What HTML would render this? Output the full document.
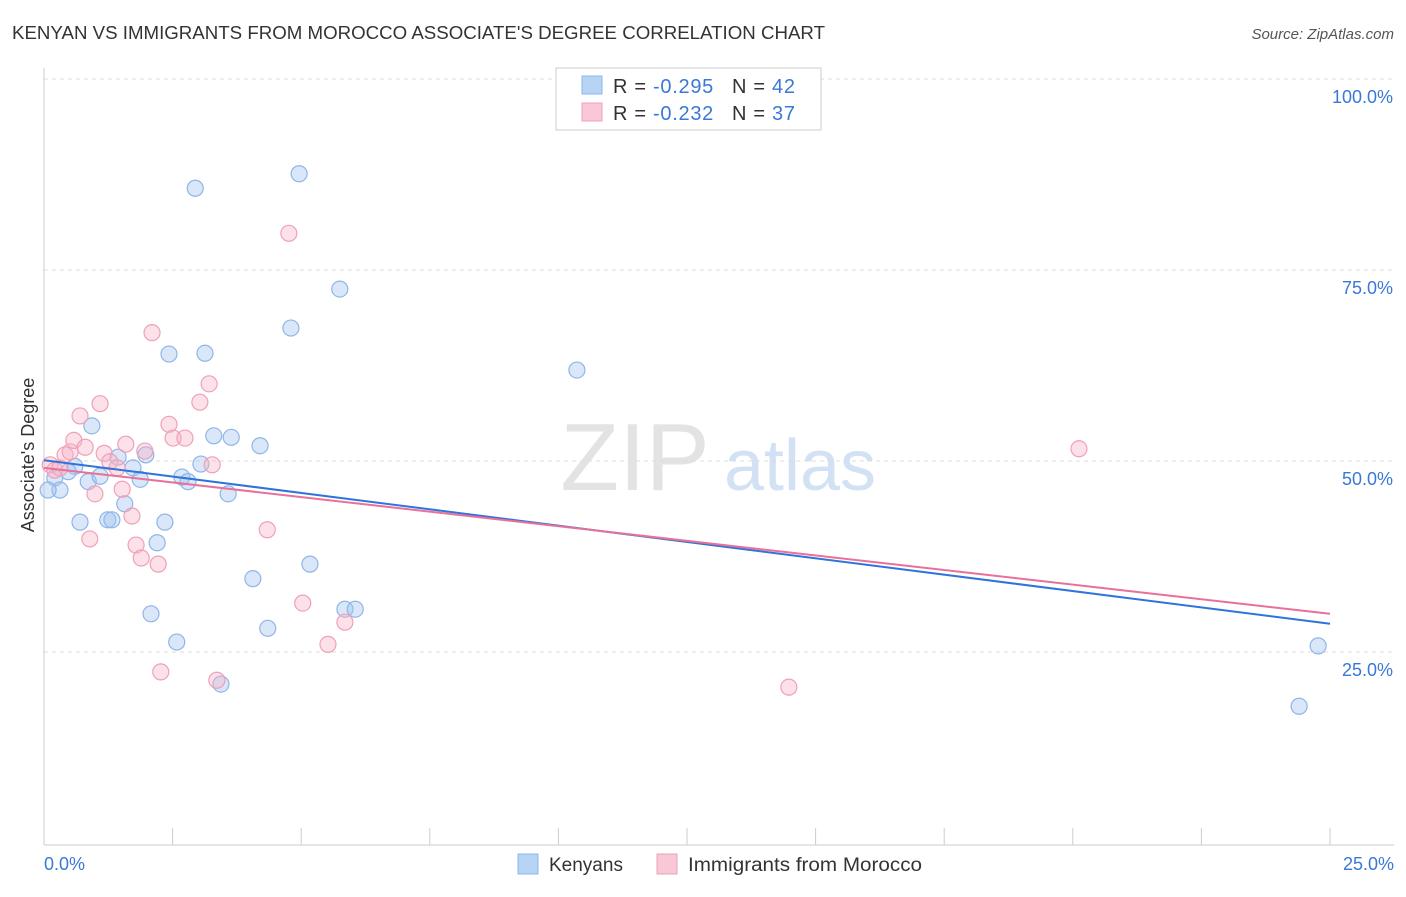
<!DOCTYPE html>
<html><head><meta charset="utf-8"><style>
body{margin:0;background:#fff;font-family:"Liberation Sans",sans-serif;}
svg text{font-family:"Liberation Sans",sans-serif;}
</style></head><body>
<svg width="1406" height="892" viewBox="0 0 1406 892" xmlns="http://www.w3.org/2000/svg">
<text x="12" y="39" font-size="18" fill="#333" textLength="813" lengthAdjust="spacingAndGlyphs">KENYAN VS IMMIGRANTS FROM MOROCCO ASSOCIATE'S DEGREE CORRELATION CHART</text>
<text x="1394" y="39" font-size="15" fill="#555" font-style="italic" text-anchor="end">Source: ZipAtlas.com</text>
<g id="grid"></g>
<g><text x="635" y="490" font-size="96" fill="#ddd" font-family="Liberation Serif" text-anchor="middle" opacity="0.8">ZIP</text><text x="800" y="490" font-size="72" fill="#c8dcf2" text-anchor="middle" opacity="0.8">atlas</text></g>
<text transform="translate(34,455) rotate(-90)" font-size="18" fill="#333" text-anchor="middle">Associate's Degree</text>
<g id="pts"></g>
<g id="trends"></g>
<g>
<rect x="556" y="68" width="265" height="62" fill="#fff" stroke="#ccc"/>
<rect x="582" y="76" width="20" height="18" fill="#b8d4f4" stroke="#8fb6e8"/>
<rect x="582" y="103" width="20" height="18" fill="#f8c8d6" stroke="#f0a0b8"/>
<text x="613" y="93" font-size="20" fill="#333" textLength="182" lengthAdjust="spacing">R = <tspan fill="#3a78d8">-0.295</tspan><tspan dx="18">N = </tspan><tspan fill="#3a78d8">42</tspan></text>
<text x="613" y="120" font-size="20" fill="#333" textLength="182" lengthAdjust="spacing">R = <tspan fill="#3a78d8">-0.232</tspan><tspan dx="18">N = </tspan><tspan fill="#3a78d8">37</tspan></text>
</g>
<g>
<rect x="518" y="854" width="20" height="20" fill="#b8d4f4" stroke="#8fb6e8"/>
<text x="549" y="871" font-size="19" fill="#333">Kenyans</text>
<rect x="657" y="854" width="20" height="20" fill="#f8c8d6" stroke="#f0a0b8"/>
<text x="688" y="871" font-size="19" fill="#333" textLength="234" lengthAdjust="spacingAndGlyphs">Immigrants from Morocco</text>
</g>
</svg>
<script>
const yTicks=[25,50,75,100];
const yTickLabels=["25.0%","50.0%","75.0%","100.0%"];
const xTicks=[0,2.5,5,7.5,10,12.5,15,17.5,20,22.5,25];
const kenX=[0.21,0.31,0.60,0.47,0.70,0.86,0.93,1.09,1.24,1.32,1.44,1.57,1.73,1.87,1.98,2.08,2.20,2.35,2.43,2.58,2.68,2.80,2.94,3.05,3.13,3.30,3.44,3.58,3.64,4.20,4.06,4.35,4.80,4.96,5.17,5.75,5.85,6.05,10.36,24.40,24.77,0.08];
const kenY=[47.8,46.2,49.3,48.6,42.0,47.3,54.6,48.0,42.3,42.3,50.5,44.4,49.1,47.6,50.8,30.0,39.3,42.0,64.0,26.3,47.9,47.3,85.7,49.6,64.1,53.3,20.8,45.7,53.1,52.0,34.6,28.1,67.4,87.6,36.5,72.5,30.6,30.6,61.9,17.9,25.8,46.2];
const morX=[0.12,0.21,0.31,0.41,0.51,0.58,0.70,0.80,0.89,0.99,1.09,1.17,1.28,1.42,1.52,1.59,1.71,1.79,1.89,1.96,2.10,2.22,2.27,2.43,2.51,2.74,3.03,3.21,3.27,3.36,4.34,4.76,5.03,5.52,5.85,14.48,20.12];
const morY=[49.5,48.8,49.1,50.8,51.2,52.7,55.9,51.8,39.8,45.7,57.5,51.0,49.9,49.1,46.3,52.2,42.8,39.0,37.3,51.3,66.8,36.5,22.4,54.8,53.0,53.0,57.7,60.1,49.5,21.3,41.0,79.8,31.4,26.0,28.9,20.4,51.6];
const kenTrend=[50.1,28.7];
const morTrend=[49.1,30.0];
const NS="http://www.w3.org/2000/svg";
const X=v=>44+v*51.44, Y=v=>843-v*7.64;
function mk(t,a,p){const e=document.createElementNS(NS,t);for(const k in a)e.setAttribute(k,a[k]);p.appendChild(e);return e;}
const g=document.getElementById('grid');
yTicks.forEach((t,i)=>{
 let l=mk('line',{x1:44,x2:1394,y1:Y(t),y2:Y(t),stroke:'#ddd','stroke-dasharray':'4,4'},g);
 
 
 let tx=mk('text',{x:1393,y:Y(t)+24,'font-size':18,fill:'#3a78d8','text-anchor':'end'},g);
 tx.textContent=yTickLabels[i];
 
 
});
let ax=mk('line',{x1:44,x2:44,y1:68,y2:845,stroke:'#ccc'},g);


let bx=mk('line',{x1:44,x2:1394,y1:845,y2:845,stroke:'#ccc'},g);


xTicks.forEach(t=>{
 let l=mk('line',{x1:X(t),x2:X(t),y1:828,y2:845,stroke:'#ccc'},g);
 
 
});
let x0=mk('text',{x:44,y:870,'font-size':18,fill:'#3a78d8'},g);x0.textContent='0.0%';


let x1=mk('text',{x:1394,y:870,'font-size':18,fill:'#3a78d8','text-anchor':'end'},g);x1.textContent='25.0%';


const p=document.getElementById('pts');
kenX.forEach((v,i)=>{
 let c=mk('circle',{cx:X(v),cy:Y(kenY[i]),r:8,fill:'rgba(160,196,240,0.4)',stroke:'#8fb6e8','stroke-width':1.2},p);
 
 
});
morX.forEach((v,i)=>{
 let c=mk('circle',{cx:X(v),cy:Y(morY[i]),r:8,fill:'rgba(248,180,200,0.4)',stroke:'#f0a0b8','stroke-width':1.2},p);
 
 
});
const tr=document.getElementById('trends');
let tb=mk('line',{x1:X(0),y1:Y(kenTrend[0]),x2:X(25),y2:Y(kenTrend[1]),stroke:'#2f74d8','stroke-width':2},tr);


let tp=mk('line',{x1:X(0),y1:Y(morTrend[0]),x2:X(25),y2:Y(morTrend[1]),stroke:'#e8709a','stroke-width':2},tr);


</script>
</body></html>
